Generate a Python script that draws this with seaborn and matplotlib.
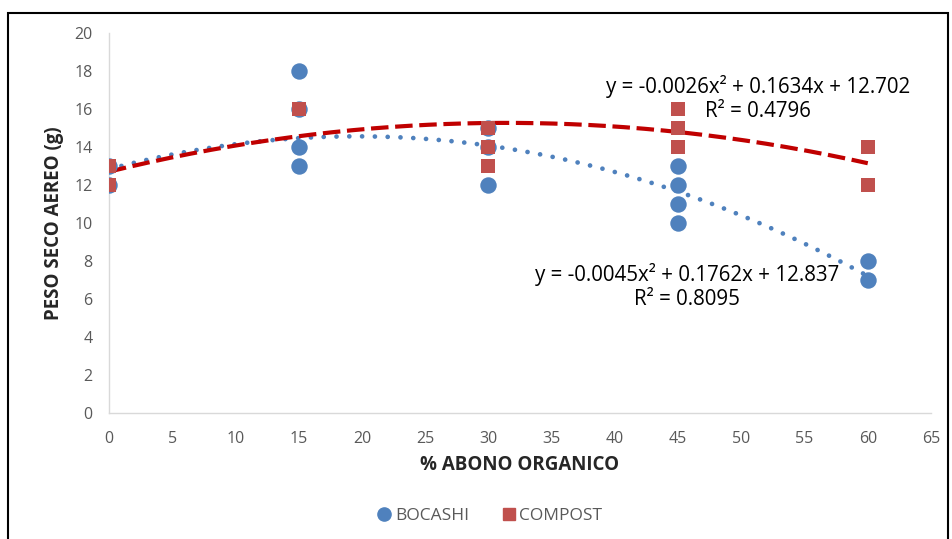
import numpy as np
import pandas as pd
import matplotlib
matplotlib.use('Agg')
import matplotlib.pyplot as plt
import seaborn as sns
from matplotlib.patches import Rectangle

# Data
bocashi_x = [0, 0, 15, 15, 15, 15, 30, 30, 30, 45, 45, 45, 45, 60, 60]
bocashi_y = [12, 13, 13, 14, 16, 18, 12, 14, 15, 10, 11, 12, 13, 7, 8]
compost_x = [0, 0, 15, 30, 30, 30, 45, 45, 45, 60, 60]
compost_y = [12, 13, 16, 13, 14, 15, 14, 15, 16, 12, 14]

# trendline coefficients shown on the chart (a, b, c)
bocashi_coef = [-0.0045, 0.1762, 12.837]
compost_coef = [-0.0026, 0.1634, 12.702]

df = pd.DataFrame({
    'x': bocashi_x + compost_x,
    'y': bocashi_y + compost_y,
    'serie': ['BOCASHI'] * len(bocashi_x) + ['COMPOST'] * len(compost_x),
})

sns.set_theme(style='white')
plt.rcParams['font.family'] = ['Open Sans', 'DejaVu Sans']

blue = '#4F81BD'
red = '#C0504D'

fig = plt.figure(figsize=(9.53, 5.39), dpi=100)
ax = fig.add_axes([109 / 953, 1 - 413 / 539, 822 / 953, 380 / 539])

# trend lines
xs = np.linspace(0, 60, 300)
ax.plot(xs, np.polyval(bocashi_coef, xs), color=blue, lw=3.4, ls=(0, (0.01, 2.7)),
        dash_capstyle='round', zorder=2)
ax.plot(xs, np.polyval(compost_coef, xs), color='#C00000', lw=3.0, ls=(0, (4.2, 1.6)),
        zorder=2)

sns.scatterplot(data=df[df.serie == 'BOCASHI'], x='x', y='y', ax=ax, color=blue,
                marker='o', s=140, linewidth=0, zorder=3, legend=False)
sns.scatterplot(data=df[df.serie == 'COMPOST'], x='x', y='y', ax=ax, color=red,
                marker='s', s=90, linewidth=0, zorder=4, legend=False)

ax.set_xlim(0, 65)
ax.set_ylim(0, 20)
ax.set_xticks(range(0, 66, 5))
ax.set_yticks(range(0, 21, 2))
ax.tick_params(axis='x', colors='#595959', labelsize=11.5, length=0, pad=13)
ax.tick_params(axis='y', colors='#595959', labelsize=11.5, length=0, pad=12)
for s in ['top', 'right']:
    ax.spines[s].set_visible(False)
for s in ['left', 'bottom']:
    ax.spines[s].set_color('#D9D9D9')
    ax.spines[s].set_linewidth(1)

ax.set_xlabel('% ABONO ORGANICO', fontsize=13.5, fontweight='bold', labelpad=6)
ax.set_ylabel('PESO SECO AEREO (g)', fontsize=13.5, fontweight='bold', labelpad=7.5)

# equations
ax.text(51.3, 16.55, 'y = -0.0026x² + 0.1634x + 12.702\nR² = 0.4796',
        ha='center', va='center', fontsize=14.8, linespacing=1.2, color='black')
ax.text(45.7, 6.65, 'y = -0.0045x² + 0.1762x + 12.837\nR² = 0.8095',
        ha='center', va='center', fontsize=14.8, linespacing=1.2, color='black')

# legend
h1 = plt.Line2D([], [], marker='o', color=blue, ls='', markersize=9.5)
h2 = plt.Line2D([], [], marker='s', color=red, ls='', markersize=8)
fig.legend([h1, h2], ['BOCASHI', 'COMPOST'], loc='center', bbox_to_anchor=(0.513, 0.043),
           ncol=2, frameon=False, fontsize=12.5, handletextpad=0.1, columnspacing=1.8,
           handlelength=1.0, labelcolor='#595959')

# outer border
fig.add_artist(Rectangle((8 / 953, -0.01), 940 / 953, 1 - 13 / 539 + 0.01,
                         transform=fig.transFigure, fill=False, ec='black', lw=1.5))

fig.savefig('out.png', dpi=100, facecolor='white')
